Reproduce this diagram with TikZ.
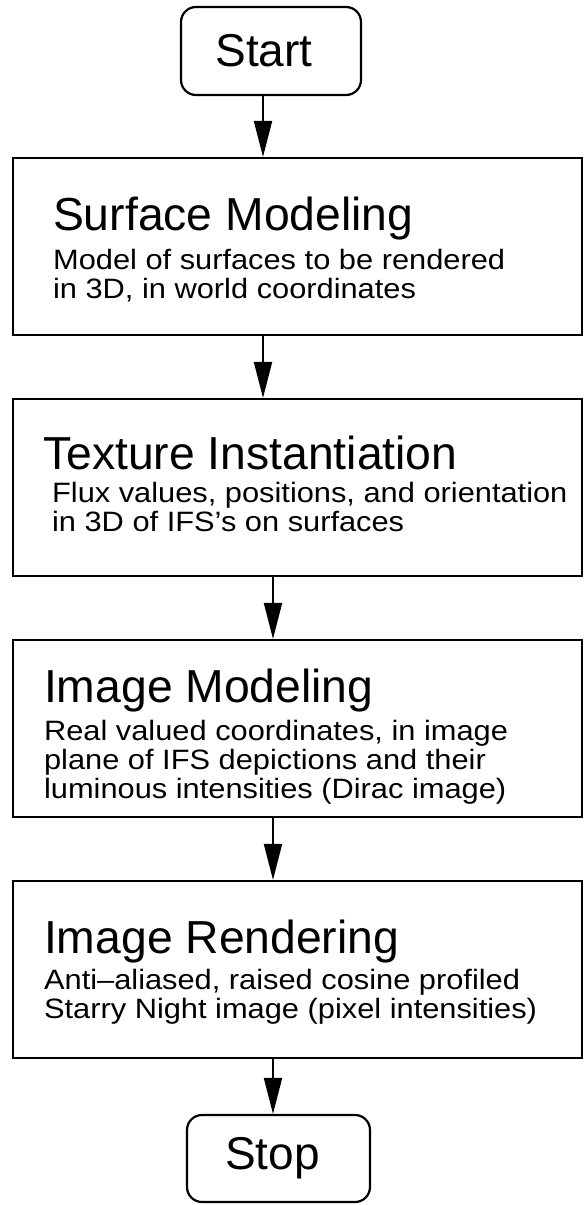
\documentclass[tikz,border=0pt]{standalone}
\usepackage{fontspec}
\setmainfont{Liberation Sans}
\newfontfamily\descfont[FakeStretch=1.1,Ligatures=TeX]{Liberation Sans}
\usetikzlibrary{arrows.meta}
\begin{document}
\begin{tikzpicture}[x=1pt,y=-1pt,line width=2.2pt,
  term/.style = {draw, rounded corners=15pt, minimum width=180pt, minimum height=88pt, font=\fontsize{46}{50}\selectfont},
  stage/.style = {draw, minimum width=569pt, minimum height=177pt},
  head/.style = {anchor=base west, inner sep=0pt, font=\fontsize{46.3}{50}\selectfont},
  desc/.style = {anchor=north west, inner sep=0pt, align=left, font=\descfont\fontsize{28}{29}\selectfont},
  flow/.style = {-{Triangle[length=36pt,width=18pt]}, line width=2pt}]
\useasboundingbox (0,0) rectangle (584,1205);
\node[term] (start) at (271,51) {\hspace*{-14pt}Start};
\node[stage] (surf) at (297.5,246.5) {};
\node[stage] (tex) at (297.5,487.5) {};
\node[stage] (imod) at (297.5,728.5) {};
\node[stage] (irend) at (297.5,969.5) {};
\node[term, minimum width=183pt, minimum height=87pt] (stop) at (278.5,1158.5) {\hspace*{-12pt}Stop};
% box texts
\node[head] (surf-h) at (52,230) {Surface Modeling};
\node[desc] (surf-d) at (52,248) {Model of surfaces to be rendered\\in 3D, in world coordinates};
\node[head] (tex-h) at (42,469) {Texture Instantiation};
\node[desc] (tex-d) at (51,481) {Flux values, positions, and orientation\\in 3D of IFS’s on surfaces};
\node[head] (imod-h) at (43,702) {Image Modeling};
\node[desc] (imod-d) at (43,719) {Real valued coordinates, in image\\plane of IFS depictions and their\\luminous intensities (Dirac image)};
\node[head] (irend-h) at (43,953) {Image Rendering};
\node[desc] (irend-d) at (43,968) {Anti–aliased, raised cosine profiled\\Starry Night image (pixel intensities)};
% arrows
\draw[flow] ([xshift=-8pt]start.south) -- ([xshift=-8pt]start.south |- surf.north);
\draw[flow] ([xshift=-34.5pt]surf.south) -- ([xshift=-34.5pt]surf.south |- tex.north);
\draw[flow] ([xshift=-24.5pt]tex.south) -- ([xshift=-24.5pt]tex.south |- imod.north);
\draw[flow] ([xshift=-24.5pt]imod.south) -- ([xshift=-24.5pt]imod.south |- irend.north);
\draw[flow] ([xshift=-24.5pt]irend.south) -- ([xshift=-24.5pt]irend.south |- stop.north);
\end{tikzpicture}
\end{document}
